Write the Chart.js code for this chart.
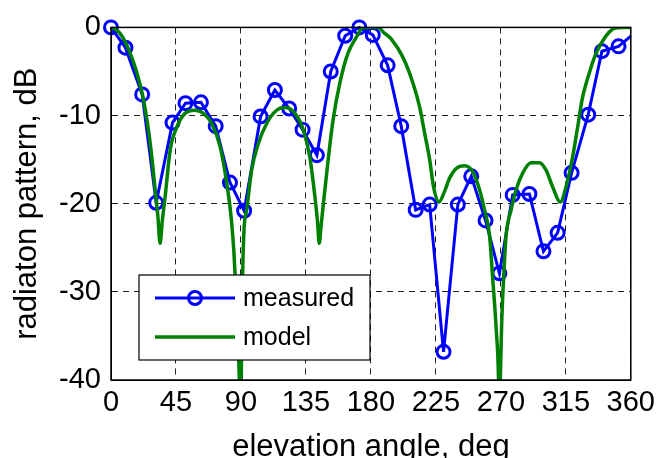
<!DOCTYPE html>
<html>
<head>
<meta charset="utf-8">
<script src="https://cdn.jsdelivr.net/npm/chart.js@4"></script>
<style>
  body { margin: 0; background: #fff; }
</style>
</head>
<body>
<canvas id="patternChart" width="661" height="458"></canvas>
<script>
// measured radiation pattern (deg, dB)
const measAngle = [0, 10, 21.6, 31.3, 42.6, 51.6, 62.3, 72.5, 82.4, 92.2,
    103.6, 113.5, 123.4, 132.7, 142.6, 152.2, 162.2, 172, 181.3, 191.6,
    201, 211, 220.7, 230.3, 240.2, 249.5, 259.4, 269, 278.2, 289.8,
    299.5, 309.3, 319, 330.5, 340, 351.5, 360];
const measDb = [0, -2.3, -7.6, -19.9, -10.8, -8.6, -8.5, -11.2, -17.6, -20.8,
    -10.1, -7.1, -9.2, -11.6, -14.5, -5.0, -0.95, 0, -0.85, -4.3,
    -11.2, -20.7, -20.1, -36.8, -20.1, -16.9, -21.9, -27.9, -19, -18.9,
    -25.4, -23.3, -16.5, -9.9, -2.7, -2.15, -1];

// model curve (deg, dB)
const modelAngle = [0, 3, 6.4, 10, 13.3, 18, 22.5, 27.2, 30.6, 32.5, 34, 35.5, 37.5, 41,
    45.6, 51.3, 57.8, 64, 69.8, 75.5, 80.2, 83.6, 85.9, 87.1, 88.9, 89.5, 90.2, 90.7,
    91.2, 92.1, 94, 97.4, 102, 107.8, 114.7, 120.5, 127.4, 133.1, 137.7, 141.2, 143,
    144.2, 145.5, 146.9, 150.4, 153.8, 158.5, 164.2, 170, 174.6, 180, 185, 189, 194,
    202.2, 209.1, 213.7, 217.2, 220.7, 223.4, 227.1, 231, 234.5, 239.1, 244.8, 250.6,
    255.2, 258.7, 262.1, 264.4, 266.8, 268.4, 268.9, 269.6, 270.5, 271.3, 272.5, 273.7,
    277.1, 280.6, 285.2, 290.9, 296.7, 301.3, 305.9, 311.2, 315.1, 319.7, 323.2, 326.2,
    331.2, 335.9, 341.6, 348.5, 354, 360];
const modelDb = [0, -0.2, -0.7, -1.7, -2.95, -5.2, -8.2, -13.2, -18.4, -21.5, -24.5, -22, -19.2, -13.9,
    -11.3, -9.75, -9.4, -9.75, -10.9, -13.5, -17.7, -22.2, -27.9, -34.3, -40, -46, -40, -33,
    -27.9, -23, -20.7, -16.2, -13.2, -10.9, -9.4, -9.1, -9.75, -11.6, -14.7, -19.2, -22,
    -24.5, -22.5, -20.3, -15, -10.5, -6.3, -2.9, -1.1, 0, 0, 0, -0.6, -1.3,
    -3.4, -6.3, -9, -12, -15, -18.1, -19.8, -18.6, -17.1, -16, -15.7, -16.4,
    -18.4, -20.7, -23.5, -28.6, -34.3, -40, -46, -40, -34, -30.5, -26.5, -23.5,
    -20.7, -18.4, -16.5, -15.35, -15.35, -16.2, -18.1, -19.8, -18.1, -14.7, -11.3, -8.25,
    -5.2, -2.95, -1.25, -0.1, 0, 0];

const xTicks = [0, 45, 90, 135, 180, 225, 270, 315, 360];
const yTicks = [0, -10, -20, -30, -40];

const FONT = "'Liberation Sans', Arial, sans-serif";
const BLUE = "#0000ff";
const GREEN = "#008000";

const measPoints = measAngle.map((a, i) => ({ x: a, y: measDb[i] }));
const modelPoints = modelAngle.map((a, i) => ({ x: a, y: modelDb[i] }));

// box around plot + legend inside the axes
const boxAndLegend = {
    id: "boxAndLegend",
    afterDraw(chart) {
        const { ctx, chartArea: a } = chart;
        ctx.save();
        ctx.strokeStyle = "#000";
        ctx.lineWidth = 1.5;
        ctx.setLineDash([]);
        ctx.strokeRect(a.left, a.top, a.right - a.left, a.bottom - a.top);

        const lx = a.left + 28, ly = a.bottom - 105, lw = 231, lh = 85;
        ctx.fillStyle = "#fff";
        ctx.fillRect(lx, ly, lw, lh);
        ctx.lineWidth = 1.2;
        ctx.strokeRect(lx, ly, lw, lh);

        const rows = [
            { label: "measured", color: BLUE, width: 3, marker: true, y: ly + 23 },
            { label: "model", color: GREEN, width: 3.5, marker: false, y: ly + 62 }
        ];
        rows.forEach(r => {
            ctx.strokeStyle = r.color;
            ctx.lineWidth = r.width;
            ctx.beginPath();
            ctx.moveTo(lx + 16, r.y);
            ctx.lineTo(lx + 96, r.y);
            ctx.stroke();
            if (r.marker) {
                ctx.beginPath();
                ctx.arc(lx + 56, r.y, 6.5, 0, Math.PI * 2);
                ctx.stroke();
            }
            ctx.fillStyle = "#000";
            ctx.font = "25px " + FONT;
            ctx.textBaseline = "middle";
            ctx.textAlign = "left";
            ctx.fillText(r.label, lx + 104, r.y + 1);
        });
        ctx.restore();
    }
};

new Chart(document.getElementById("patternChart").getContext("2d"), {
    type: "line",
    data: {
        datasets: [
            {
                label: "measured",
                data: measPoints,
                borderColor: BLUE,
                borderWidth: 3,
                pointStyle: "circle",
                pointRadius: measAngle.map((a, i) => i === measAngle.length - 1 ? 0 : 6.5),
                pointBorderWidth: 3,
                pointBorderColor: BLUE,
                pointBackgroundColor: "rgba(0,0,0,0)",
                tension: 0,
                clip: false,
                order: 1
            },
            {
                label: "model",
                data: modelPoints,
                borderColor: GREEN,
                borderWidth: 3.5,
                pointRadius: 0,
                cubicInterpolationMode: "monotone",
                order: 0
            }
        ]
    },
    options: {
        responsive: false,
        animation: false,
        layout: { padding: { top: 27, right: 29, left: 0, bottom: 0 } },
        plugins: {
            legend: { display: false },
            tooltip: { enabled: false }
        },
        scales: {
            x: {
                type: "linear",
                min: 0,
                max: 360,
                afterBuildTicks: s => { s.ticks = xTicks.map(v => ({ value: v })); },
                afterFit: s => { s.height = 78; },
                ticks: { color: "#000", font: { family: FONT, size: 29 }, padding: 6, maxRotation: 0, autoSkip: false },
                grid: { color: "#222", lineWidth: 1, drawTicks: false },
                border: { display: true, color: "#000", dash: [6, 5] },
                title: {
                    display: true,
                    text: "elevation angle, deg",
                    color: "#000",
                    font: { family: FONT, size: 31, lineHeight: 0.7 },
                    padding: { top: 0, bottom: 0 }
                }
            },
            y: {
                type: "linear",
                min: -40,
                max: 0,
                afterBuildTicks: s => { s.ticks = yTicks.map(v => ({ value: v })); },
                afterFit: s => { s.width = 111; },
                ticks: { color: "#000", font: { family: FONT, size: 29 }, padding: 10 },
                grid: { color: "#222", lineWidth: 1, drawTicks: false },
                border: { display: true, color: "#000", dash: [6, 5] },
                title: {
                    display: true,
                    text: "radiaton pattern, dB",
                    color: "#000",
                    font: { family: FONT, size: 31, lineHeight: 1 },
                    padding: { top: 12, bottom: 0 }
                }
            }
        }
    },
    plugins: [boxAndLegend]
});
</script>
</body>
</html>
